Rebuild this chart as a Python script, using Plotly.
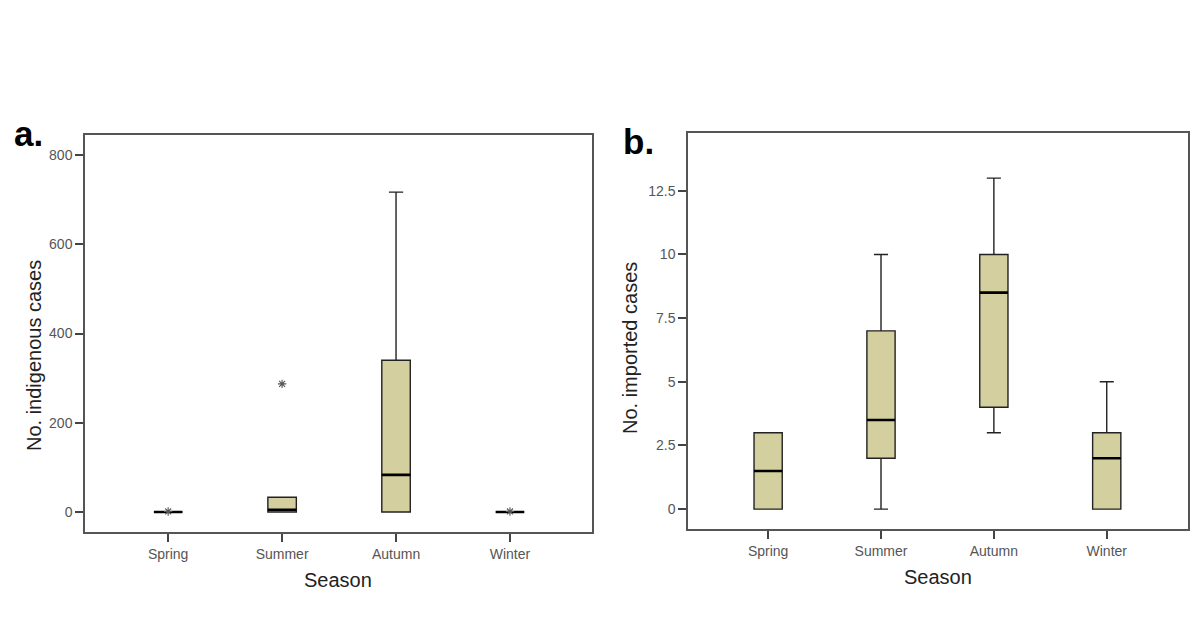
import plotly.graph_objects as go

# ---- data ----
seasons = ["Spring", "Summer", "Autumn", "Winter"]

indig_q1 = [0, 0, 0, 0]
indig_median = [0, 5, 83, 0]
indig_q3 = [0, 33, 340, 0]
indig_lower = [0, 0, 0, 0]
indig_upper = [0, 33, 717, 0]
indig_out_x = ["Spring", "Summer", "Winter"]
indig_out_y = [1, 287, 1]

imp_q1 = [0, 2, 4, 0]
imp_median = [1.5, 3.5, 8.5, 2]
imp_q3 = [3, 7, 10, 3]
imp_lower = [0, 0, 3, 0]
imp_upper = [3, 10, 13, 5]

indig_ticks = [0, 200, 400, 600, 800]
imp_ticks = [0, 2.5, 5, 7.5, 10, 12.5]
imp_ticklabels = ["0", "2.5", "5", "7.5", "10", "12.5"]

FILL = "#d4cf9e"
BOXW = 0.25
FONT = "Liberation Sans, Arial, sans-serif"

# page offset compensation (browser body margin)
OFF = 8
W, H = 1200 - OFF, 629 - OFF


def px(x):
    return (x - OFF) / W


def py(y):
    return 1 - (y - OFF) / H


fig = go.Figure()


def add_panel(xa, ya, q1, med, q3, lo, hi):
    fig.add_trace(go.Box(
        x=seasons, q1=q1, median=med, q3=q3, lowerfence=lo, upperfence=hi,
        fillcolor=FILL, line=dict(color="#222222", width=1.4),
        width=BOXW, whiskerwidth=0.5, boxpoints=False,
        xaxis=xa, yaxis=ya, showlegend=False, hoverinfo="skip"))
    # thick median line overlay
    fig.add_trace(go.Box(
        x=seasons, q1=med, median=med, q3=med, lowerfence=med, upperfence=med,
        fillcolor="rgba(0,0,0,0)", line=dict(color="#000000", width=2.6),
        width=BOXW, whiskerwidth=0, boxpoints=False,
        xaxis=xa, yaxis=ya, showlegend=False, hoverinfo="skip"))


add_panel("x", "y", indig_q1, indig_median, indig_q3, indig_lower, indig_upper)
fig.add_trace(go.Scatter(
    x=indig_out_x, y=indig_out_y, mode="markers",
    marker=dict(symbol="asterisk-open", size=7, color="#555555",
                line=dict(color="#555555", width=1.1)),
    xaxis="x", yaxis="y", showlegend=False, hoverinfo="skip"))

add_panel("x2", "y2", imp_q1, imp_median, imp_q3, imp_lower, imp_upper)

axis_common = dict(
    showline=True, mirror=True, linecolor="#555555", linewidth=1.5,
    showgrid=False, zeroline=False, ticks="outside", ticklen=8,
    tickcolor="#444444", tickwidth=1.5,
    tickfont=dict(family=FONT, size=14, color="#555555"),
)

fig.update_layout(
    width=W, height=H,
    margin=dict(l=0, r=0, t=0, b=0),
    paper_bgcolor="white", plot_bgcolor="white",
    boxmode="overlay",
    xaxis=dict(domain=[px(85), px(592)], type="category",
               categoryorder="array", categoryarray=seasons,
               range=[-0.73, 3.72], anchor="y", **axis_common),
    yaxis=dict(domain=[py(532), py(135)], range=[-45, 845],
               tickvals=indig_ticks, anchor="x", **axis_common),
    xaxis2=dict(domain=[px(688), px(1188)], type="category",
                categoryorder="array", categoryarray=seasons,
                range=[-0.71, 3.72], anchor="y2", **axis_common),
    yaxis2=dict(domain=[py(529), py(133)], range=[-0.78, 14.77],
                tickvals=imp_ticks, ticktext=imp_ticklabels, anchor="x2",
                **axis_common),
)

title_font = dict(family=FONT, size=20, color="#222222")
annots = [
    dict(text="No. indigenous cases", x=px(34), y=py(356),
         textangle=-90, font=title_font),
    dict(text="Season", x=px(338), y=py(580), font=title_font),
    dict(text="No. imported cases", x=px(630), y=py(348),
         textangle=-90, font=title_font),
    dict(text="Season", x=px(938), y=py(577), font=title_font),
    dict(text="<b>a.</b>", x=px(28), y=py(133),
         font=dict(family=FONT, size=35, color="#000000")),
    dict(text="<b>b.</b>", x=px(638), y=py(141),
         font=dict(family=FONT, size=35, color="#000000")),
]
for a in annots:
    a.update(xref="paper", yref="paper", showarrow=False,
             xanchor="center", yanchor="middle")
    fig.add_annotation(**a)

fig.write_html("out.html")
